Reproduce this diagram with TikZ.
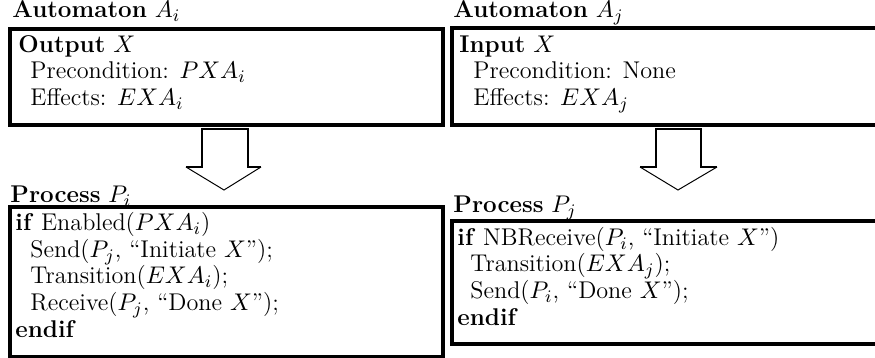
\documentclass[tikz,border=0pt]{standalone}
\begin{document}
\begin{tikzpicture}[x=0.4545pt,y=-0.4545pt,
  txt/.style={anchor=base west,inner sep=0pt,font=\fontsize{11}{12}\selectfont},
  boxline/.style={line width=1.4pt},
  shaft/.style={line width=0.9pt},
  head/.style={line width=0.45pt}]
\useasboundingbox (0,0) rectangle (875,358);
% boxes
\draw[boxline] (10,29) rectangle (443,125);
\draw[boxline] (452,28) rectangle (880,125);
\draw[boxline] (10,207) rectangle (443,357);
\draw[boxline] (452,221) rectangle (880,344);
% top-left
\node[txt] (ai) at (12,18) {\textbf{Automaton} $A_i$};
\node[txt] (ox) at (18,53) {\textbf{Output} $X$};
\node[txt] (pc1) at (30,79) {Precondition: $PXA_i$};
\node[txt] (ef1) at (30,106) {Effects: $EXA_i$};
% top-right
\node[txt] (aj) at (453,18) {\textbf{Automaton} $A_j$};
\node[txt] (ix) at (459,53) {\textbf{Input} $X$};
\node[txt] (pc2) at (473,79) {Precondition: None};
\node[txt] (ef2) at (473,106) {Effects: $EXA_j$};
% bottom-left
\node[txt] (pi) at (10,203) {\textbf{Process} $P_i$};
\node[txt] (l1) at (15,231) {\textbf{if} Enabled($PXA_i$)};
\node[txt] (l2) at (30,258) {Send($P_j$, ``Initiate $X$'');};
\node[txt] (l3) at (30,284) {Transition($EXA_i$);};
\node[txt] (l4) at (30,311) {Receive($P_j$, ``Done $X$'');};
\node[txt] (l5) at (15,338) {\textbf{endif}};
% bottom-right
\node[txt] (pj) at (453,213) {\textbf{Process} $P_j$};
\node[txt] (r1) at (457,246) {\textbf{if} NBReceive($P_i$, ``Initiate $X$'')};
\node[txt] (r2) at (470,272) {Transition($EXA_j$);};
\node[txt] (r3) at (470,299) {Send($P_i$, ``Done $X$'');};
\node[txt] (r4) at (457,326) {\textbf{endif}};
% block arrows
\coordinate (la1) at (186,167); \coordinate (la2) at (202,167);
\coordinate (la3) at (202,129); \coordinate (la4) at (248,129);
\coordinate (la5) at (248,167); \coordinate (la6) at (261,167);
\coordinate (lat) at (224,190);
\draw[shaft] (la1) -- (la2) -- (la3) -- (la4) -- (la5) -- (la6);
\draw[head] (la1) -- (lat) -- (la6);
\coordinate (ra1) at (640,167); \coordinate (ra2) at (656,167);
\coordinate (ra3) at (656,129); \coordinate (ra4) at (701,129);
\coordinate (ra5) at (701,167); \coordinate (ra6) at (717,167);
\coordinate (rat) at (678,190);
\draw[shaft] (ra1) -- (ra2) -- (ra3) -- (ra4) -- (ra5) -- (ra6);
\draw[head] (ra1) -- (rat) -- (ra6);
\end{tikzpicture}
\end{document}
